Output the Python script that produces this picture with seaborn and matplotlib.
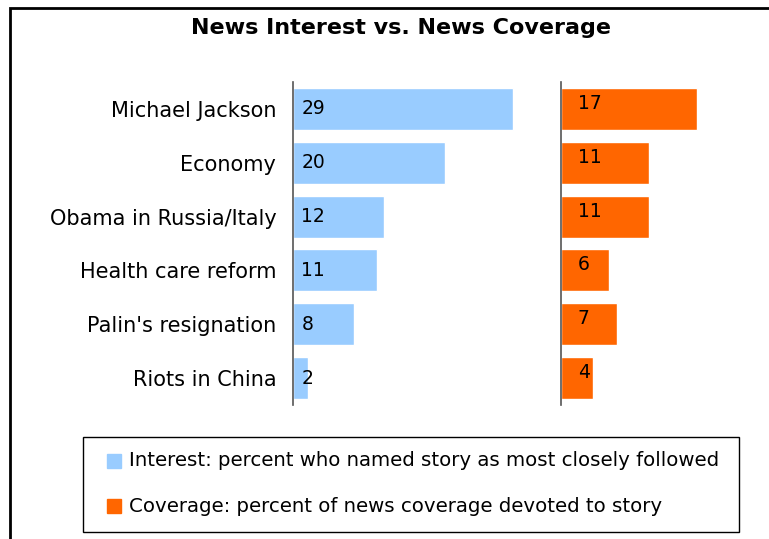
import matplotlib
matplotlib.use("Agg")
import matplotlib.pyplot as plt
import seaborn as sns
import pandas as pd
from matplotlib.patches import Rectangle

categories = ["Michael Jackson", "Economy", "Obama in Russia/Italy",
              "Health care reform", "Palin's resignation", "Riots in China"]
interest = [29, 20, 12, 11, 8, 2]
coverage = [17, 11, 11, 6, 7, 4]
legend_labels = ["Interest: percent who named story as most closely followed",
                 "Coverage: percent of news coverage devoted to story"]
title = "News Interest vs. News Coverage"

BLUE = "#99CCFF"
ORANGE = "#FF6600"

sns.set_theme(style="white")
plt.rcParams['font.family'] = ['DejaVu Sans']
plt.rcParams['text.color'] = 'black'
plt.rcParams['ytick.color'] = 'black'
plt.rcParams['ytick.labelcolor'] = 'black'

df = pd.DataFrame({"story": categories, "interest": interest, "coverage": coverage})

W, H = 769, 539
fig = plt.figure(figsize=(W / 100, H / 100), dpi=100)

def fx(px):
    return px / W

def fy(py):
    return 1 - py / H

# outer frame
fig.patches.append(Rectangle((fx(10), fy(560)), fx(800), 552 / H,
                             transform=fig.transFigure, fill=False,
                             edgecolor="black", linewidth=2))

fig.text(fx(401), fy(28), title, ha="center", va="center",
         fontsize=16, fontweight="bold", color="black")

top, bot = 82, 405
ax1 = fig.add_axes([fx(293), fy(bot), fx(228), (bot - top) / H])
ax2 = fig.add_axes([fx(561), fy(bot), fx(160), (bot - top) / H])

sns.barplot(data=df, x="interest", y="story", ax=ax1, color=BLUE,
            width=0.78, saturation=1, orient="h")
sns.barplot(data=df, x="coverage", y="story", ax=ax2, color=ORANGE,
            width=0.78, saturation=1, orient="h")

ax1.set_xlim(0, 30)
ax2.set_xlim(0, 20)
for ax in (ax1, ax2):
    ax.set_ylim(5.5, -0.5)
    ax.set_xlabel("")
    ax.set_ylabel("")
    ax.set_xticks([])
    for s in ("top", "right", "bottom"):
        ax.spines[s].set_visible(False)
    ax.spines["left"].set_color("#555555")
    ax.spines["left"].set_linewidth(1.2)
    ax.tick_params(axis="y", length=0)
    ax.patch.set_alpha(0)

ax1.tick_params(axis="y", pad=12, labelsize=15, labelcolor="black")
ax2.set_yticklabels([])

for i, v in enumerate(interest):
    ax1.annotate(str(v), (0, i), xytext=(6, 0), textcoords="offset points",
                 va="center", ha="left", fontsize=13.5, color="black")
for i, v in enumerate(coverage):
    ax2.annotate(str(v), (0, i), xytext=(12, 4), textcoords="offset points",
                 va="center", ha="left", fontsize=13.5, color="black")

# legend box
lx0, lx1, ly0, ly1 = 83, 739, 437, 532
fig.patches.append(Rectangle((fx(lx0), fy(ly1)), fx(lx1 - lx0), (ly1 - ly0) / H,
                             transform=fig.transFigure, fill=False,
                             edgecolor="black", linewidth=1))
for j, (lab, col, yy) in enumerate(zip(legend_labels, [BLUE, ORANGE], [461, 506])):
    fig.patches.append(Rectangle((fx(107), fy(yy + 7)), fx(14), 14 / H,
                                 transform=fig.transFigure, color=col))
    fig.text(fx(129), fy(yy), lab, ha="left", va="center", fontsize=14.2,
             color="black")

fig.savefig("out.png", dpi=100)
